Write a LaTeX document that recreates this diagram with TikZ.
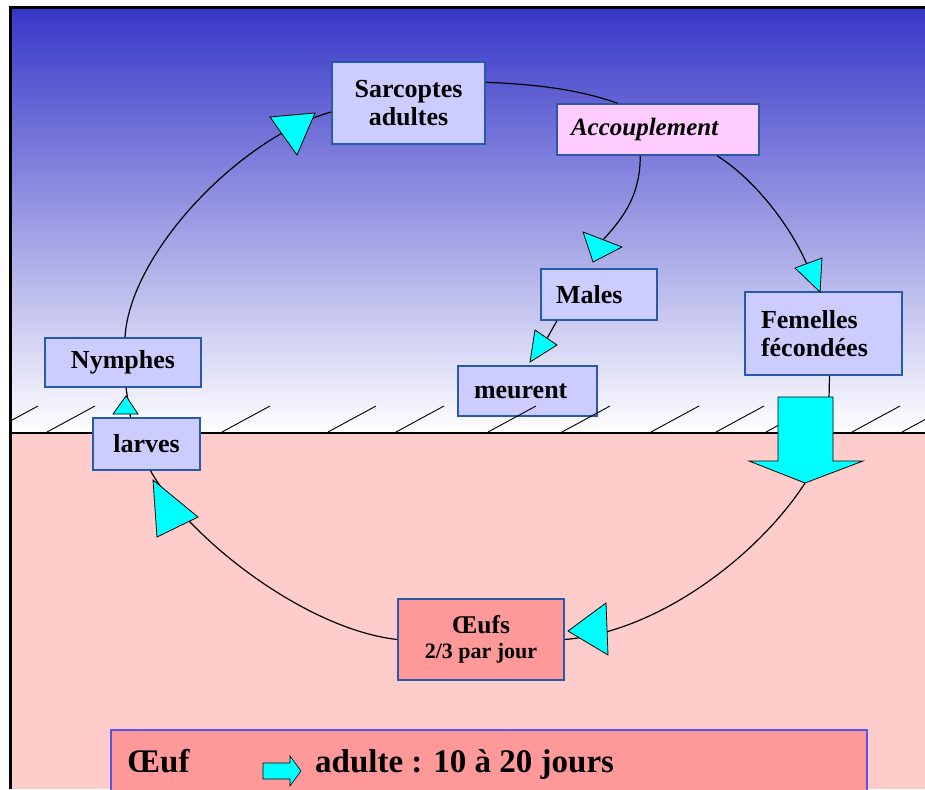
\documentclass[tikz,border=0pt]{standalone}
\usepackage{fontspec}
\setmainfont{Liberation Serif}
\usetikzlibrary{calc}
\definecolor{boxfill}{RGB}{204,204,255}
\definecolor{boxline}{RGB}{40,90,170}
\definecolor{accfill}{RGB}{255,204,255}
\definecolor{eggfill}{RGB}{255,153,153}
\definecolor{pinkbg}{RGB}{255,204,204}
\definecolor{skytop}{RGB}{55,55,200}
\definecolor{legline}{RGB}{85,85,235}
\definecolor{cyanfill}{RGB}{0,255,255}
\begin{document}
\begin{tikzpicture}[x=1pt,y=-1pt,
  box/.style={draw=boxline, line width=1.6pt, fill=boxfill, inner sep=0pt,
    font=\fontsize{26}{28}\selectfont\bfseries, align=center},
  conn/.style={draw=black, line width=1.2pt},
  tri/.style={fill=cyanfill, draw=black, line width=0.8pt, line join=miter},
  hatch/.style={draw=black, line width=0.9pt}]
\clip (0,0) rectangle (925,789);
\fill[white] (0,0) rectangle (925,789);
% backgrounds
\shade[top color=skytop, bottom color=white] (10,8) rectangle (925,433);
\fill[pinkbg] (10,433) rectangle (925,789);
\draw[line width=1.5pt] (10,433) -- (925,433);
% boxes
\node[box, minimum width=153pt, minimum height=82pt] (sarc) at (408.5,103) {Sarcoptes\\adultes};
\node[box, fill=accfill, minimum height=51pt, text width=174pt, inner xsep=14pt, align=left,
  font=\fontsize{25}{28}\selectfont\bfseries\itshape] (acc) at (658,129.5) {Accouplement};
\node[box, minimum height=51pt, text width=86pt, inner xsep=15pt, align=left] (males) at (599,294.5) {Males};
\node[box, minimum height=50pt, text width=107pt, inner xsep=16pt, align=left] (meur) at (527.5,391) {meurent};
\node[box, minimum height=83pt, text width=125pt, inner xsep=16pt, align=left] (fem) at (823.5,333.5) {Femelles\\fécondées};
\node[box, minimum width=156pt, minimum height=49pt] (nym) at (123,362.5) {Nymphes};
\node[box, fill=eggfill, minimum width=166pt, minimum height=81pt,
  font=\fontsize{22}{25}\selectfont\bfseries] (oeufs) at (481,639.5) {{\fontsize{25.5}{25}\selectfont Œufs}\\2/3 par jour};
% hatching
\begin{scope}
\clip (10,0) rectangle (925,433);
\foreach \b in {-10,47,222,328,396,488,562,651,716,766,852,902}
  \draw[hatch] (\b,432) -- ++(48,-26);
\end{scope}
\node[box, minimum width=107pt, minimum height=52pt] (larv) at (146.5,444) {larves};
% frame
\draw[line width=3pt] (10,789) -- (10,8) -- (925,8);
% named points
\coordinate (t2c) at (603,240);
\coordinate (t3c) at (810,272);
\coordinate (t4c) at (545,342);
\coordinate (fa) at (829,399);
\coordinate (bigtip) at (805,483);
% connectors
\draw[conn] (sarc.15) .. controls +(50,2) and +(-40,-14) .. (acc.147);
\draw[conn] (acc.236) .. controls +(0,40) and +(20,-22) .. (t2c);
\draw[conn] (acc.-24) .. controls +(40,25) and +(-15,-40) .. (t3c);
\draw[conn] (males.212) -- (t4c);
\draw[conn] ([xshift=6pt]fem.south) -- (fa);
\draw[conn] (bigtip) .. controls +(-45,70) and +(96,-8) .. (oeufs.east);
\draw[conn] (oeufs.west) .. controls +(-90,-10) and +(40,70) .. ([xshift=4pt]larv.south);
\draw[conn] ([xshift=-16pt]larv.north) -- ([xshift=3pt]nym.south);
\draw[conn] ([xshift=2pt]nym.north) .. controls +(5,-85) and +(-90,25) .. ([yshift=-9pt]sarc.west);
% arrowheads
\draw[tri] (270,117) -- (315,113) -- (297,155) -- cycle;
\draw[tri] (583,232) -- (622,247) -- (593,262) -- cycle;
\draw[tri] (795,268) -- (822,258) -- (820,292) -- cycle;
\draw[tri] (535,330) -- (557,345) -- (530,362) -- cycle;
\draw[tri] (113,414) -- (138,414) -- (126,396) -- cycle;
\draw[tri] (153,480) -- (198,517) -- (157,537) -- cycle;
\draw[tri] (568,631) -- (606,603) -- (608,655) -- cycle;
% big arrow
\draw[tri] (778,397) -- (833,397) -- (833,461) -- (863,461) -- (bigtip) -- (749,461) -- (778,461) -- cycle;
% legend
\node[draw=legline, fill=eggfill, line width=1.5pt, minimum width=756pt, minimum height=72pt,
  anchor=north west, inner sep=0pt] (leg) at (110,729) {};
\node[anchor=base west, inner sep=0pt, font=\fontsize{33}{36}\selectfont\bfseries] (legA) at (127,772) {Œuf};
\node[anchor=base west, inner sep=0pt, font=\fontsize{33}{36}\selectfont\bfseries] (legB) at (315,772) {adulte : 10 à 20 jours};
\draw[tri, line width=0.6pt] (263,763) -- (290,763) -- (290,756) -- (301,771) -- (290,786) -- (290,779) -- (263,779) -- cycle;
\end{tikzpicture}
\end{document}
